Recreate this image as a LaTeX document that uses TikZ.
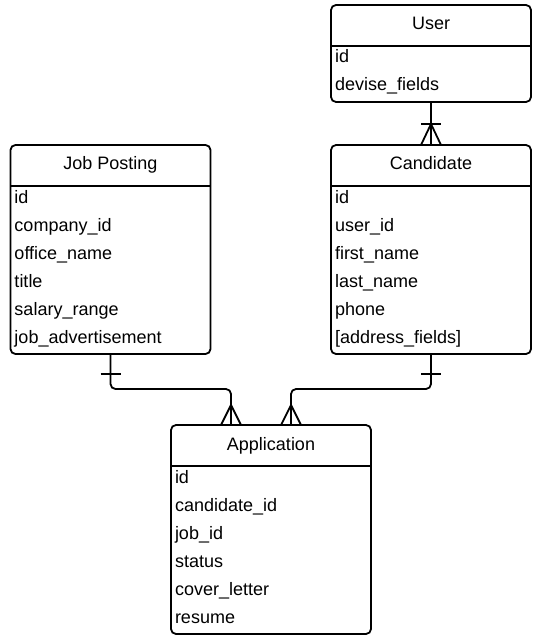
\documentclass[tikz,border=0pt]{standalone}
\usepackage{fontspec}
\setmainfont{Liberation Sans}
\usetikzlibrary{calc}
\tikzset{
  entity/.style={draw, line width=1.8bp, rounded corners=5bp, minimum width=200bp, inner sep=0pt, outer sep=0pt},
  etitle/.style={inner sep=0pt, font=\fontsize{18bp}{21bp}\selectfont},
  field/.style={inner sep=0pt, font=\fontsize{18bp}{21bp}\selectfont},
  frame/.style={line width=1.8bp},
  conn/.style={line width=1.8bp, line join=round},
}
\newcommand{\erbox}[6]{%
  \node[entity, minimum height=41bp+#5*28bp, anchor=north] (#1) at (#2,#3) {};
  \node[etitle, anchor=base] (#1-t) at (#2,#3+25) {#4};
  \draw[frame] (#2-100,#3+41) -- (#2+100,#3+41);
  \foreach \r [count=\i from 0] in {#6}
    \node[field, anchor=base west] (#1-\i) at (#2-96.2,#3+58+28*\i) {\r};
}
\begin{document}
\begin{tikzpicture}[x=1bp,y=-1bp]
\useasboundingbox (0,0) rectangle (540,640);
\erbox{user}{431}{5}{User}{2}{id,devise\_fields}
\erbox{cand}{431}{145}{Candidate}{6}{id,user\_id,first\_name,last\_name,phone,{[address\_fields]}}
\erbox{job}{110.5}{145}{Job Posting}{6}{id,company\_id,office\_name,title,salary\_range,job\_advertisement}
\erbox{app}{271}{425}{Application}{6}{id,candidate\_id,job\_id,status,cover\_letter,resume}

% User - Candidate
\draw[conn] (user.south) -- (cand.north);
\draw[conn] ($(cand.north)+(-10,-21)$) -- ($(cand.north)+(10,-21)$);
\draw[conn] ($(cand.north)+(-10,0)$) -- ($(cand.north)+(0,-21)$) -- ($(cand.north)+(10,0)$);

% Job Posting - Application
\draw[conn, rounded corners=5bp] (job.south) -- ($(job.south)+(0,35)$) -| ($(app.north)+(-40,0)$);
\draw[conn] ($(job.south)+(-10,20)$) -- ($(job.south)+(10,20)$);
\draw[conn] ($(app.north)+(-50,0)$) -- ($(app.north)+(-40,-20)$) -- ($(app.north)+(-30,0)$);

% Candidate - Application
\draw[conn, rounded corners=5bp] (cand.south) -- ($(cand.south)+(0,35)$) -| ($(app.north)+(20,0)$);
\draw[conn] ($(cand.south)+(-10,20)$) -- ($(cand.south)+(10,20)$);
\draw[conn] ($(app.north)+(10,0)$) -- ($(app.north)+(20,-20)$) -- ($(app.north)+(30,0)$);
\end{tikzpicture}
\end{document}
